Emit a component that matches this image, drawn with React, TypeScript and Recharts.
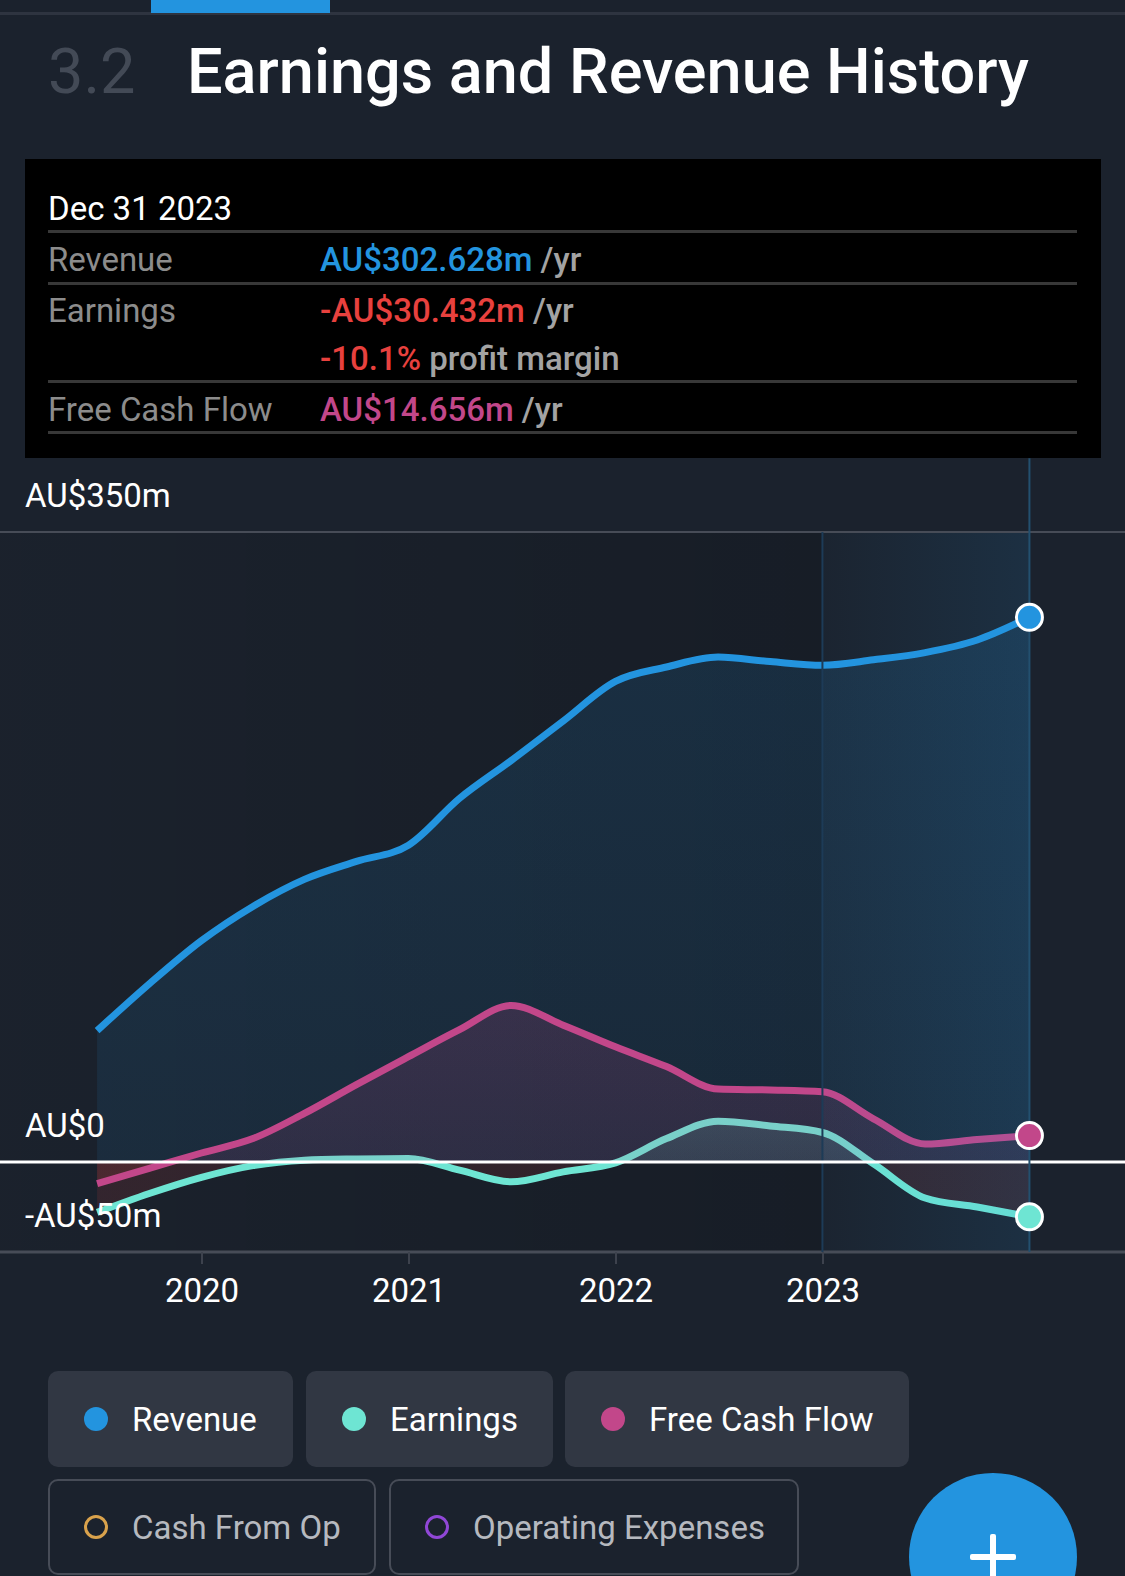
import React from 'react';
import {
  ComposedChart,
  Area,
  XAxis,
  YAxis,
  CartesianGrid,
  ReferenceLine,
  ReferenceArea,
  ReferenceDot,
} from 'recharts';

// quarter ends, values in AU$m (trailing twelve months)
const dates = [
  '2019-06-30', '2019-09-30', '2019-12-31', '2020-03-31', '2020-06-30',
  '2020-09-30', '2020-12-31', '2021-03-31', '2021-06-30', '2021-09-30',
  '2021-12-31', '2022-03-31', '2022-06-30', '2022-09-30', '2022-12-31',
  '2023-03-31', '2023-06-30', '2023-09-30', '2023-12-31',
];
const revenue = [73, 99, 123, 142, 157, 167, 176, 202, 223, 245, 267, 275, 280.5, 278, 276, 279, 283, 290, 302.628];
const earnings = [-28, -17.5, -8.5, -2, 1, 1.7, 2, -4.5, -11, -5.5, -0.5, 13, 22.7, 20, 16.4, -1, -20, -25, -30.432];
const freeCashFlow = [-12, -3.5, 5, 13, 27, 43, 58.5, 73.5, 87, 76, 64, 53, 40.5, 40, 39, 24, 10, 12.5, 14.656];

const yearTicks = [2020, 2021, 2022, 2023];
const valueTicks = [-50, 0, 100, 200, 300, 350];

const BLUE = '#2394df';
const TEAL = '#6ee5d3';
const PINK = '#c2478a';
const RED = '#e8413e';
const BG = '#1b222d';
const FONT = 'Roboto, "Noto Sans", sans-serif';
const FS = 33;

const toYear = (d: string) => {
  const [y, m, day] = d.split('-').map(Number);
  const start = Date.UTC(y, 0, 1);
  const end = Date.UTC(y + 1, 0, 1);
  return y + (Date.UTC(y, m - 1, day) - start) / (end - start);
};

const rows = dates.map((d, i) => ({
  t: toYear(d),
  revenue: revenue[i],
  earnings: earnings[i],
  fcf: freeCashFlow[i],
}));

const last = rows[rows.length - 1];
const lastYearStart = rows[rows.length - 5].t;

// where zero sits inside each area's bounding box (for the pos/neg colour split)
const zeroSplit = (arr: number[]) => {
  const mx = Math.max(0, ...arr);
  const mn = Math.min(0, ...arr);
  return mx / (mx - mn);
};

const AxisLabel = (props: any) => {
  const vb = props.viewBox || {};
  return (
    <text x={25} y={vb.y - 25} fill="#fff" fontSize={FS} fontFamily={FONT}>
      {props.text}
    </text>
  );
};

const txt = (top: number, left: number, size: number, color: string, weight = 400): React.CSSProperties => ({
  position: 'absolute',
  top,
  left,
  fontSize: size,
  lineHeight: `${size}px`,
  color,
  fontWeight: weight,
  whiteSpace: 'nowrap',
});

const divider = (top: number): React.CSSProperties => ({
  position: 'absolute',
  top,
  left: 48,
  width: 1029,
  height: 3,
  background: '#383838',
});

function LegendChip({ left, top, width, label, color, on }: any) {
  return (
    <div
      style={{
        position: 'absolute',
        left,
        top,
        width,
        height: 96,
        boxSizing: 'border-box',
        borderRadius: 10,
        background: on ? '#313743' : 'transparent',
        border: on ? 'none' : '2px solid #474c57',
      }}
    >
      <div
        style={{
          position: 'absolute',
          left: on ? 36 : 34,
          top: on ? 36 : 34,
          width: 24,
          height: 24,
          boxSizing: 'border-box',
          borderRadius: 12,
          background: on ? color : 'transparent',
          border: on ? 'none' : `3px solid ${color}`,
        }}
      />
      <div style={txt(on ? 32 : 30, on ? 84 : 82, FS, on ? '#fff' : '#b6b9bf')}>{label}</div>
    </div>
  );
}

export default function App() {
  const fcfSplit = zeroSplit(freeCashFlow);
  const earnSplit = zeroSplit(earnings);
  return (
    <div
      style={{
        position: 'relative',
        width: 1125,
        height: 1576,
        overflow: 'hidden',
        background: BG,
        fontFamily: FONT,
      }}
    >
      <style>{`body{margin:0;background:${BG}}`}</style>

      {/* top tabs */}
      <div style={{ position: 'absolute', top: 12, left: 0, width: 1125, height: 3, background: '#2e3440' }} />
      <div style={{ position: 'absolute', top: 0, left: 151, width: 179, height: 13, background: BLUE }} />

      {/* title */}
      <div style={txt(40, 48, 63, '#434a56')}>3.2</div>
      <div style={txt(40, 187, 63, '#fff', 500)}>Earnings and Revenue History</div>

      {/* chart */}
      <div style={{ position: 'absolute', top: 440, left: 0 }}>
        <ComposedChart width={1125} height={900} data={rows} margin={{ top: 92, right: 0, left: 0, bottom: 0 }}>
          <defs>
            <linearGradient id="pastShade" x1="0" y1="0" x2="1" y2="0">
              <stop offset="0" stopColor="#000" stopOpacity={0.03} />
              <stop offset="1" stopColor="#000" stopOpacity={0.3} />
            </linearGradient>
            <linearGradient id="hlShade" x1="0" y1="0" x2="1" y2="0">
              <stop offset="0" stopColor={BLUE} stopOpacity={0.04} />
              <stop offset="1" stopColor={BLUE} stopOpacity={0.24} />
            </linearGradient>
            <linearGradient id="revFill" x1="0" y1="0" x2="0" y2="1">
              <stop offset="0" stopColor={BLUE} stopOpacity={0.24} />
              <stop offset="1" stopColor={BLUE} stopOpacity={0.16} />
            </linearGradient>
            <linearGradient id="fcfFill" x1="0" y1="0" x2="0" y2="1">
              <stop offset="0" stopColor={PINK} stopOpacity={0.3} />
              <stop offset={fcfSplit} stopColor={PINK} stopOpacity={0.2} />
              <stop offset={fcfSplit} stopColor={RED} stopOpacity={0.22} />
              <stop offset="1" stopColor={RED} stopOpacity={0.22} />
            </linearGradient>
            <linearGradient id="earnFill" x1="0" y1="0" x2="0" y2="1">
              <stop offset="0" stopColor={TEAL} stopOpacity={0.28} />
              <stop offset={earnSplit} stopColor={TEAL} stopOpacity={0.2} />
              <stop offset={earnSplit} stopColor={RED} stopOpacity={0.2} />
              <stop offset="1" stopColor={RED} stopOpacity={0.2} />
            </linearGradient>
          </defs>

          <ReferenceArea
            x1={2019.024}
            x2={lastYearStart}
            y1={-50}
            y2={350}
            fill="url(#pastShade)"
            stroke="none"
          />
          <CartesianGrid vertical={false} stroke="#30353f" strokeWidth={2} />

          <XAxis
            dataKey="t"
            type="number"
            domain={[2019.024, 2024.459]}
            ticks={yearTicks}
            allowDataOverflow
            height={88}
            axisLine={false}
            tickSize={12}
            tickMargin={15}
            tickLine={{ stroke: '#3d424d', strokeWidth: 2 }}
            tick={{ fill: '#fff', fontSize: FS, fontFamily: FONT }}
            tickFormatter={(v: number) => String(Math.round(v))}
          />
          <YAxis
            type="number"
            domain={[-50, 350]}
            ticks={valueTicks}
            width={0}
            axisLine={false}
            tickLine={false}
            tick={false}
          />

          <ReferenceLine y={350} stroke="#474c57" strokeWidth={2} label={<AxisLabel text="AU$350m" />} />
          <ReferenceLine y={-50} stroke="#474c57" strokeWidth={3} label={<AxisLabel text="-AU$50m" />} />
          <ReferenceLine x={lastYearStart} stroke="#1d3b57" strokeWidth={2} />

          <Area
            type="monotone"
            dataKey="revenue"
            stroke={BLUE}
            strokeWidth={7}
            fill="url(#revFill)"
            baseValue={0}
            dot={false}
            activeDot={false}
            isAnimationActive={false}
          />
          <Area
            type="monotone"
            dataKey="earnings"
            stroke={TEAL}
            strokeWidth={7}
            fill="url(#earnFill)"
            baseValue={0}
            dot={false}
            activeDot={false}
            isAnimationActive={false}
          />
          <Area
            type="monotone"
            dataKey="fcf"
            stroke={PINK}
            strokeWidth={7}
            fill="url(#fcfFill)"
            baseValue={0}
            dot={false}
            activeDot={false}
            isAnimationActive={false}
          />

          <ReferenceLine y={0} stroke="#fff" strokeWidth={3} label={<AxisLabel text="AU$0" />} />
          <ReferenceArea x1={lastYearStart} x2={last.t} y1={-50} y2={350} fill="url(#hlShade)" stroke="none" />
          <ReferenceLine
            segment={[
              { x: last.t, y: -50 },
              { x: last.t, y: 391 },
            ]}
            ifOverflow="visible"
            stroke="#23506f"
            strokeWidth={2}
          />

          <ReferenceDot x={last.t} y={last.revenue} r={13} fill={BLUE} stroke="#fff" strokeWidth={3} />
          <ReferenceDot x={last.t} y={last.fcf} r={13} fill={PINK} stroke="#fff" strokeWidth={3} />
          <ReferenceDot x={last.t} y={last.earnings} r={13} fill={TEAL} stroke="#fff" strokeWidth={3} />
        </ComposedChart>
      </div>

      {/* tooltip box */}
      <div style={{ position: 'absolute', left: 25, top: 159, width: 1076, height: 299, background: '#000' }} />
      <div style={txt(192, 48, FS, '#fff')}>Dec 31 2023</div>
      <div style={divider(230)} />
      <div style={txt(243, 48, FS, '#8c8c8c')}>Revenue</div>
      <div style={txt(243, 320, FS, '#a3a3a3', 500)}>
        <span style={{ color: BLUE }}>AU$302.628m</span> /yr
      </div>
      <div style={divider(282)} />
      <div style={txt(294, 48, FS, '#8c8c8c')}>Earnings</div>
      <div style={txt(294, 320, FS, '#a3a3a3', 500)}>
        <span style={{ color: RED }}>-AU$30.432m</span> /yr
      </div>
      <div style={txt(342, 320, FS, '#a3a3a3', 500)}>
        <span style={{ color: RED }}>-10.1%</span> profit margin
      </div>
      <div style={divider(380)} />
      <div style={txt(393, 48, FS, '#8c8c8c')}>Free Cash Flow</div>
      <div style={txt(393, 320, FS, '#a3a3a3', 500)}>
        <span style={{ color: PINK }}>AU$14.656m</span> /yr
      </div>
      <div style={divider(431)} />

      {/* legend */}
      <LegendChip left={48} top={1371} width={245} label="Revenue" color={BLUE} on />
      <LegendChip left={306} top={1371} width={247} label="Earnings" color={TEAL} on />
      <LegendChip left={565} top={1371} width={344} label="Free Cash Flow" color={PINK} on />
      <LegendChip left={48} top={1479} width={328} label="Cash From Op" color="#d9a24c" />
      <LegendChip left={389} top={1479} width={410} label="Operating Expenses" color="#9047d6" />

      {/* add button */}
      <div
        style={{
          position: 'absolute',
          left: 909,
          top: 1473,
          width: 168,
          height: 168,
          borderRadius: 84,
          background: BLUE,
        }}
      >
        <div style={{ position: 'absolute', left: 61, top: 81, width: 46, height: 6, background: '#fff', borderRadius: 2 }} />
        <div style={{ position: 'absolute', left: 81, top: 61, width: 6, height: 46, background: '#fff', borderRadius: 2 }} />
      </div>
    </div>
  );
}
